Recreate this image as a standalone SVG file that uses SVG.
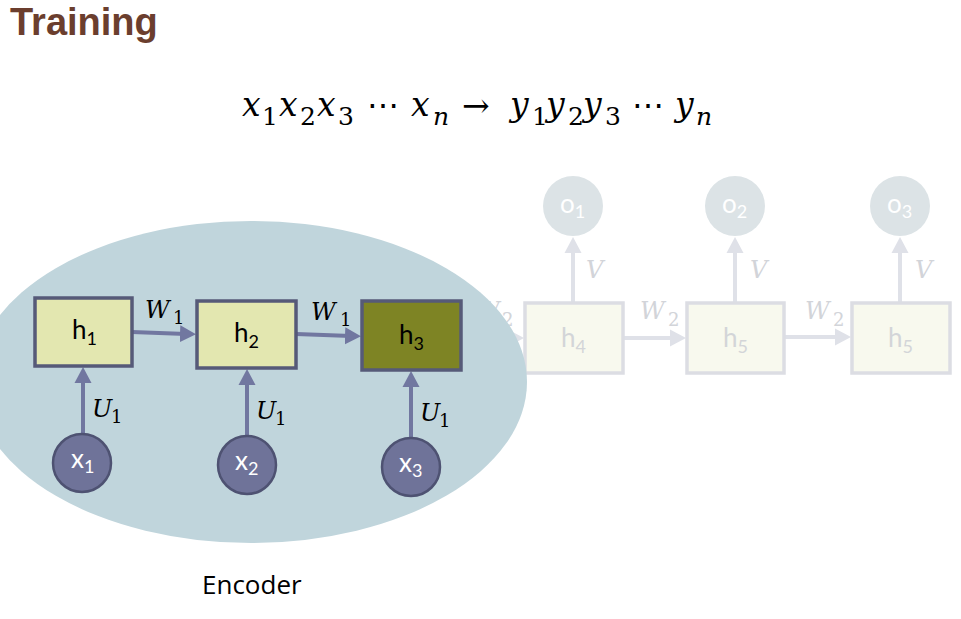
<svg xmlns="http://www.w3.org/2000/svg" width="961" height="619" viewBox="0 0 961 619">
  <style>
    .title { font-family: "Liberation Sans", Arial, sans-serif; font-weight: bold; font-size: 38px; fill: #6b3e2e; }
    .math { font-family: "DejaVu Serif", "Liberation Serif", serif; font-style: italic; fill: #000; }
    .msub { font-family: "DejaVu Serif", "Liberation Serif", serif; fill: #000; }
    .eq { font-family: "DejaVu Serif", "Liberation Serif", serif; fill: #000; font-size: 33px; }
    .ei { font-style: italic; font-size: 33px; }
    .es { font-style: normal; font-size: 25px; }
    .en { font-style: italic; font-size: 25px; }
    .eo { font-style: normal; font-size: 32px; }
    .ea { font-style: normal; font-size: 33px; }
    .gmath { fill: #d2d4d9; }
    .node { font-family: Lato, "Open Sans", sans-serif; font-size: 26px; }
    .sub { font-size: 18px; }
    .hbox { fill: #e3e7b0; stroke: #565a78; stroke-width: 3.5; }
    .hbox3 { fill: #7e8424; stroke: #565a78; stroke-width: 3.5; }
    .gbox { fill: #f8f9ee; stroke: #dcdde3; stroke-width: 3.5; }
    .xcirc { fill: #6f7399; stroke: #4e5272; stroke-width: 2.5; }
    .ocirc { fill: #dce3e6; }
    .arr { stroke: #7177a0; stroke-width: 4; fill: none; marker-end: url(#ah); }
    .garr { stroke: #dfe1e8; stroke-width: 4; fill: none; marker-end: url(#gah); }
    .lbl { font-family: "Open Sans", "Noto Sans", sans-serif; font-size: 26px; fill: #000; }
  </style>
  <defs>
    <marker id="ah" markerUnits="userSpaceOnUse" markerWidth="17" markerHeight="18" refX="6" refY="9" orient="auto">
      <path d="M0,0.5 L16,9 L0,17.5 z" fill="#7177a0"/>
    </marker>
    <marker id="gah" markerUnits="userSpaceOnUse" markerWidth="17" markerHeight="18" refX="6" refY="9" orient="auto">
      <path d="M0,0.5 L16,9 L0,17.5 z" fill="#dfe1e8"/>
    </marker>
  </defs>

  <rect width="961" height="619" fill="#ffffff"/>

  <text class="title" x="10" y="35">Training</text>

  <g id="equation">
    <text class="eq"><tspan class="ei" x="242" y="116">x</tspan><tspan class="es" x="262" y="125">1</tspan><tspan class="ei" x="279" y="116">x</tspan><tspan class="es" x="300" y="125">2</tspan><tspan class="ei" x="317" y="116">x</tspan><tspan class="es" x="338" y="125">3</tspan><tspan class="eo" x="367" y="116">⋯</tspan><tspan class="ei" x="411" y="116">x</tspan><tspan class="en" x="433" y="125">n</tspan><tspan class="ea" x="462" y="117">→</tspan><tspan class="ei" x="510" y="116">y</tspan><tspan class="es" x="532" y="125">1</tspan><tspan class="ei" x="546" y="116">y</tspan><tspan class="es" x="568" y="125">2</tspan><tspan class="ei" x="583" y="116">y</tspan><tspan class="es" x="605" y="125">3</tspan><tspan class="eo" x="632" y="116">⋯</tspan><tspan class="ei" x="675" y="116">y</tspan><tspan class="en" x="696" y="125">n</tspan></text>
  </g>

  <!-- decoder (faded), drawn behind encoder ellipse -->
  <g id="decoder-connectors">
    <line class="garr" x1="461" y1="338" x2="514" y2="338"/>
    <line class="garr" x1="623" y1="338" x2="676" y2="338"/>
    <line class="garr" x1="784" y1="337" x2="841" y2="337"/>
    <line class="garr" x1="573" y1="303" x2="573" y2="247"/>
    <line class="garr" x1="735" y1="303" x2="735" y2="247"/>
    <line class="garr" x1="900" y1="303" x2="900" y2="247"/>
    <text class="math gmath" x="475" y="319" font-size="24">W</text>
    <text class="msub gmath" x="502" y="326" font-size="18">2</text>
    <text class="math gmath" x="640" y="319" font-size="24">W</text>
    <text class="msub gmath" x="668" y="326" font-size="18">2</text>
    <text class="math gmath" x="805" y="319" font-size="24">W</text>
    <text class="msub gmath" x="833" y="326" font-size="18">2</text>
    <text class="math gmath" x="586" y="278" font-size="24">V</text>
    <text class="math gmath" x="750" y="278" font-size="24">V</text>
    <text class="math gmath" x="915" y="278" font-size="24">V</text>
  </g>
  <g id="h4">
    <rect class="gbox" x="525" y="303" width="98" height="70"/>
    <text class="node" x="561" y="347" fill="#d3d5d8">h<tspan class="sub" dy="6">4</tspan></text>
  </g>
  <g id="h5">
    <rect class="gbox" x="687" y="303" width="97" height="70"/>
    <text class="node" x="723" y="347" fill="#d3d5d8">h<tspan class="sub" dy="6">5</tspan></text>
  </g>
  <g id="h5b">
    <rect class="gbox" x="852" y="303" width="98" height="70"/>
    <text class="node" x="888" y="347" fill="#d3d5d8">h<tspan class="sub" dy="6">5</tspan></text>
  </g>
  <g id="o1">
    <circle class="ocirc" cx="573" cy="206" r="30"/>
    <text class="node" x="560" y="213" fill="#ffffff">o<tspan class="sub" dy="5">1</tspan></text>
  </g>
  <g id="o2">
    <circle class="ocirc" cx="735" cy="206" r="30"/>
    <text class="node" x="722" y="213" fill="#ffffff">o<tspan class="sub" dy="5">2</tspan></text>
  </g>
  <g id="o3">
    <circle class="ocirc" cx="900" cy="206" r="30"/>
    <text class="node" x="887" y="213" fill="#ffffff">o<tspan class="sub" dy="5">3</tspan></text>
  </g>

  <g id="encoder">
    <ellipse cx="251" cy="382" rx="276" ry="161" fill="#c0d5dc"/>
  </g>

  <g id="connectors">
    <line class="arr" x1="132" y1="332" x2="186" y2="334"/>
    <line class="arr" x1="296" y1="334" x2="351" y2="336"/>
    <line class="arr" x1="83" y1="433" x2="83" y2="377"/>
    <line class="arr" x1="247" y1="436" x2="247" y2="379"/>
    <line class="arr" x1="411" y1="438" x2="411" y2="381"/>
    <text class="math" x="145" y="318" font-size="24">W</text>
    <text class="msub" x="173" y="324" font-size="18">1</text>
    <text class="math" x="311" y="320" font-size="24">W</text>
    <text class="msub" x="340" y="326" font-size="18">1</text>
    <text class="math" x="92" y="417" font-size="24">U</text>
    <text class="msub" x="111" y="423" font-size="18">1</text>
    <text class="math" x="256" y="419" font-size="24">U</text>
    <text class="msub" x="275" y="425" font-size="18">1</text>
    <text class="math" x="420" y="421" font-size="24">U</text>
    <text class="msub" x="439" y="427" font-size="18">1</text>
  </g>

  <g id="h1">
    <rect class="hbox" x="35" y="298" width="97" height="68"/>
    <text class="node" x="72" y="339" fill="#000">h<tspan class="sub" dy="6">1</tspan></text>
  </g>
  <g id="h2">
    <rect class="hbox" x="197" y="301" width="99" height="67"/>
    <text class="node" x="234" y="342" fill="#000">h<tspan class="sub" dy="6">2</tspan></text>
  </g>
  <g id="h3">
    <rect class="hbox3" x="362" y="301" width="99" height="69"/>
    <text class="node" x="399" y="344" fill="#000">h<tspan class="sub" dy="6">3</tspan></text>
  </g>
  <g id="x1">
    <circle class="xcirc" cx="82" cy="463" r="29"/>
    <text class="node" x="71" y="468" fill="#ffffff">x<tspan class="sub" dy="5">1</tspan></text>
  </g>
  <g id="x2">
    <circle class="xcirc" cx="247" cy="465" r="29"/>
    <text class="node" x="235" y="470" fill="#ffffff">x<tspan class="sub" dy="5">2</tspan></text>
  </g>
  <g id="x3">
    <circle class="xcirc" cx="411" cy="467" r="29"/>
    <text class="node" x="399" y="472" fill="#ffffff">x<tspan class="sub" dy="5">3</tspan></text>
  </g>

  <text class="lbl" x="202" y="594">Encoder</text>
</svg>
